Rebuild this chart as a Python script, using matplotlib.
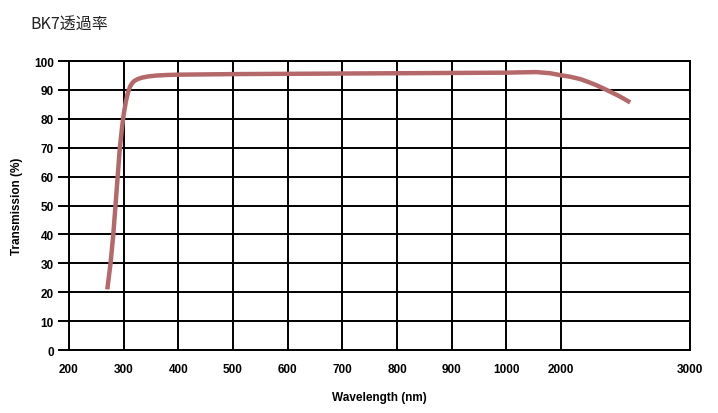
import numpy as np
import matplotlib
matplotlib.use("Agg")
import matplotlib.pyplot as plt

# BK7 transmission curve
wavelength = [270, 276, 281, 285, 289, 293, 297, 300, 304, 308, 312, 316, 320, 326,
              334, 345, 360, 380, 400, 500, 600, 700, 800, 900, 1000, 1250, 1554,
              1800, 2000, 2070, 2147, 2210, 2277, 2354, 2450, 2536]
transmission = [21, 30, 40, 50, 60, 70, 77, 81.5, 86, 89.2, 91.3, 92.5, 93.2, 93.8,
                94.3, 94.7, 95.0, 95.2, 95.3, 95.5, 95.6, 95.7, 95.8, 95.9, 96.0, 96.1,
                96.2, 95.8, 95.1, 94.6, 93.8, 92.8, 91.6, 90.0, 87.9, 85.7]

x_ticks = [200, 300, 400, 500, 600, 700, 800, 900, 1000, 2000, 3000]
y_ticks = list(range(0, 101, 10))

# the x axis is linear up to 1000 nm, then squeezed for 2000 and 3000
brk_wl = [200, 1000, 2000, 3000]
brk_pos = [0, 8, 9, 11.36]


def fwd(v):
    return np.interp(v, brk_wl, brk_pos)


def inv(p):
    return np.interp(p, brk_pos, brk_wl)


plt.rcParams['font.family'] = ['Liberation Sans', 'DejaVu Sans']

fig = plt.figure(figsize=(7.18, 4.14), dpi=100)
ax = fig.add_axes([0.0961, 0.152, 0.865, 0.698])

ax.set_xscale('function', functions=(fwd, inv))
ax.set_xlim(200, 3000)
ax.set_ylim(0, 100)
ax.set_xticks(x_ticks)
ax.set_xticklabels([str(t) for t in x_ticks])
ax.set_yticks(y_ticks)
ax.minorticks_off()

ax.grid(True, color='black', linewidth=1.4)
ax.set_axisbelow(True)
for s in ax.spines.values():
    s.set_linewidth(1.4)

ax.tick_params(axis='x', length=0, pad=9, labelsize=8.5)
ax.tick_params(axis='y', length=8, width=1.4, pad=3, labelsize=8.5)
for lab in ax.get_xticklabels() + ax.get_yticklabels():
    lab.set_fontweight('bold')

ax.plot(wavelength, transmission, color='#b4686a', linewidth=3.2,
        solid_capstyle='butt', solid_joinstyle='round', zorder=3)

ax.set_xlabel('Wavelength (nm)', fontsize=8.5, fontweight='bold', labelpad=12)
ax.set_ylabel('Transmission (%)', fontsize=8.5, fontweight='bold', labelpad=8)

fig.text(0.042, 0.942, 'BK7透過率', fontsize=11.5, color='#222222',
         family=['Noto Sans CJK JP', 'DejaVu Sans'], va='center')

fig.savefig('out.png', dpi=100)
